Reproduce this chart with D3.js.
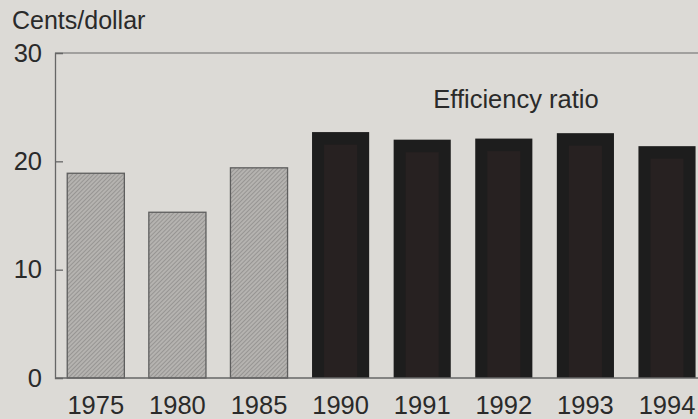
<!DOCTYPE html>
<html>
<head>
<meta charset="utf-8">
<script src="https://cdn.jsdelivr.net/npm/d3@7"></script>
<style>
  html, body { margin: 0; padding: 0; background: #dcdad6; }
  svg { display: block; }
  text { font-family: "Liberation Sans", Arial, Helvetica, sans-serif; fill: #2a2a2a; }
</style>
</head>
<body>
<svg id="chart" width="698" height="419"></svg>
<script>
const years = ["1975", "1980", "1985", "1990", "1991", "1992", "1993", "1994"];
const values = [18.9, 15.3, 19.4, 22.7, 22.0, 22.1, 22.6, 21.4];
const periodType = ["early", "early", "early", "recent", "recent", "recent", "recent", "recent"];
const yTicks = [0, 10, 20, 30];
const yLabel = "Cents/dollar";
const seriesLabel = "Efficiency ratio";

const W = 698, H = 419;
const plotLeft = 55, plotTop = 53, plotBottom = 378;
const fs = "25.5px";

const svg = d3.select("#chart");

const defs = svg.append("defs");
const pat = defs.append("pattern")
  .attr("id", "hatch").attr("patternUnits", "userSpaceOnUse")
  .attr("width", 3).attr("height", 3)
  .attr("patternTransform", "rotate(45)");
pat.append("rect").attr("width", 3).attr("height", 3).attr("fill", "#b5b3b0");
pat.append("line").attr("x1", 0).attr("y1", 0).attr("x2", 0).attr("y2", 3)
  .attr("stroke", "#7f7d7b").attr("stroke-width", 1.1);

const y = d3.scaleLinear().domain([0, 30]).range([plotBottom, plotTop]);
const x = d3.scaleBand().domain(years)
  .range([plotLeft, plotLeft + 8 * 81.6])
  .paddingInner(0.3).paddingOuter(0.15);

const data = years.map((yr, i) => ({ year: yr, value: values[i], type: periodType[i] }));

// frame top line
svg.append("line").attr("x1", plotLeft).attr("x2", W).attr("y1", y(30)).attr("y2", y(30))
  .attr("stroke", "#666").attr("stroke-width", 1.2);

// bars
const g = svg.append("g");
data.forEach(d => {
  const bx = x(d.year), bw = x.bandwidth(), by = y(d.value), bh = y(0) - y(d.value);
  if (d.type === "early") {
    g.append("rect").attr("x", bx).attr("y", by).attr("width", bw).attr("height", bh)
      .attr("fill", "url(#hatch)").attr("stroke", "#5e5e5e").attr("stroke-width", 1.3);
  } else {
    g.append("rect").attr("x", bx).attr("y", by).attr("width", bw).attr("height", bh)
      .attr("fill", "#1d1d1d");
    g.append("rect").attr("x", bx + 12).attr("y", by + 12.5).attr("width", bw - 24).attr("height", bh - 12.5)
      .attr("fill", "#272121");
  }
});

// y axis
const yAxis = d3.axisLeft(y).tickValues(yTicks).tickSize(-8).tickPadding(13).tickFormat(d3.format("d"));
const ya = svg.append("g").attr("transform", `translate(${plotLeft},0)`).call(yAxis);
ya.select(".domain").attr("stroke", "#666").attr("stroke-width", 1.3);
ya.selectAll(".tick line").attr("stroke", "#666").attr("stroke-width", 1.3)
  .filter(d => d === 0 || d === 30).remove();
ya.selectAll(".tick text").style("font-size", fs).attr("fill", "#2a2a2a")
  .attr("x", -13);
ya.attr("font-family", null).attr("font-size", null);

// baseline
svg.append("line").attr("x1", plotLeft).attr("x2", W).attr("y1", y(0)).attr("y2", y(0))
  .attr("stroke", "#666").attr("stroke-width", 1.4);

// x axis labels
const xAxis = d3.axisBottom(x).tickSize(0).tickPadding(18);
const xa = svg.append("g").attr("transform", `translate(0,${plotBottom})`).call(xAxis);
xa.select(".domain").remove();
xa.selectAll(".tick text").style("font-size", fs).attr("fill", "#2a2a2a");
xa.attr("font-family", null).attr("font-size", null);

// labels
svg.append("text").attr("x", 12).attr("y", 29).style("font-size", "25px").text(yLabel);
svg.append("text").attr("x", 516).attr("y", 108).attr("text-anchor", "middle")
  .style("font-size", fs).text(seriesLabel);
</script>
</body>
</html>
